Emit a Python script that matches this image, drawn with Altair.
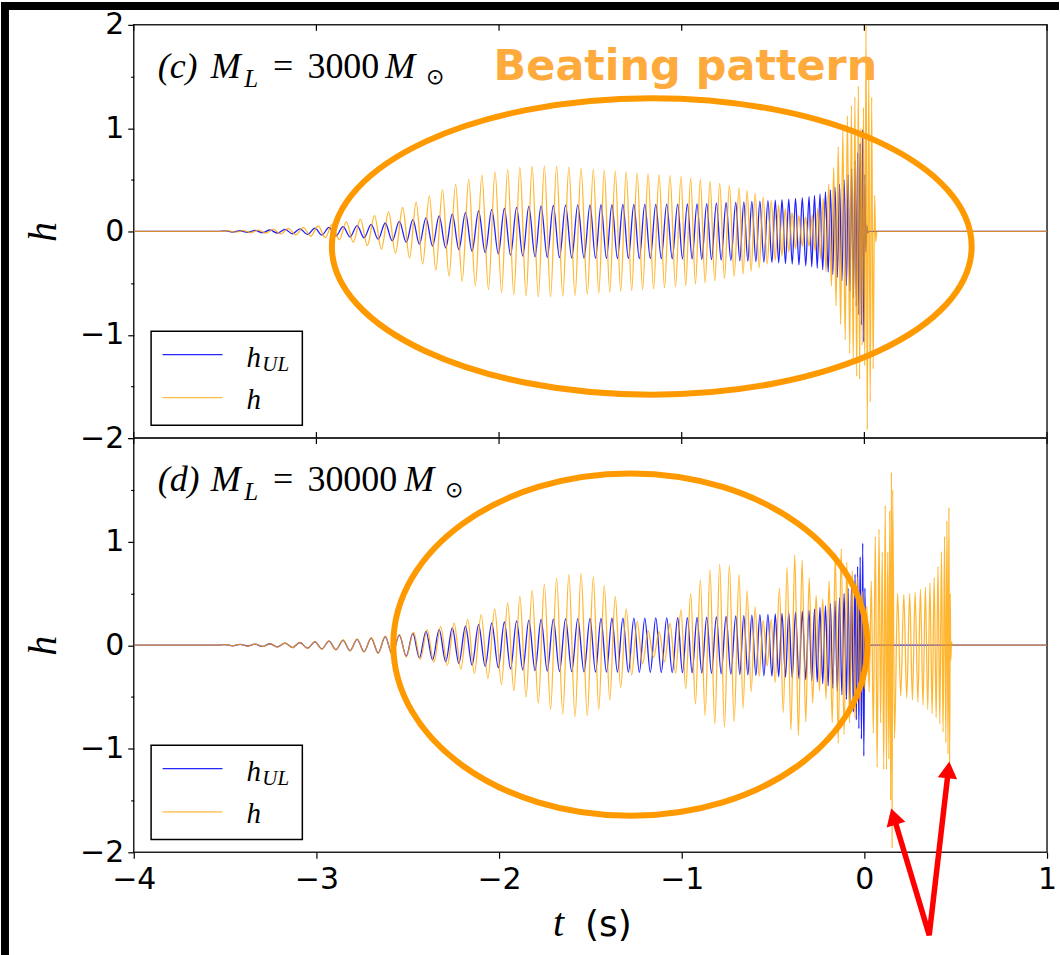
import altair as alt
import pandas as pd

# ---------------- axes ----------------
X_DOMAIN = [-4, 1]
Y_DOMAIN = [-2, 2]
X_TICKS = [-4, -3, -2, -1, 0, 1]
Y_TICKS = [-2, -1.5, -1, -0.5, 0, 0.5, 1, 1.5, 2]

# ---------------- h_UL (unlensed, same in both panels): extrema ----------------
T_UL = [-4.0, -3.54,
        -3.500, -3.459, -3.418, -3.377, -3.336, -3.295, -3.254, -3.213, -3.172, -3.131, -3.090, -3.049, -3.008,
        -2.970, -2.931, -2.893, -2.854, -2.816, -2.777, -2.739, -2.700, -2.662, -2.623, -2.585, -2.546, -2.508,
        -2.472, -2.436, -2.400, -2.364, -2.328, -2.292, -2.256, -2.220, -2.184, -2.148, -2.112, -2.076, -2.040, -2.004,
        -1.971, -1.937, -1.904, -1.870, -1.837, -1.803, -1.770, -1.736, -1.703, -1.669, -1.636, -1.602, -1.569, -1.535, -1.502,
        -1.472, -1.442, -1.412, -1.382, -1.352, -1.322, -1.292, -1.262, -1.232, -1.202, -1.172, -1.142, -1.112, -1.082, -1.052, -1.022,
        -0.996, -0.969, -0.943, -0.916, -0.890, -0.863, -0.837, -0.810, -0.784, -0.757, -0.731, -0.704,
        -0.682, -0.660, -0.638, -0.616, -0.594, -0.572, -0.550, -0.528, -0.506,
        -0.488, -0.469, -0.451, -0.432, -0.414, -0.395, -0.377, -0.358, -0.340, -0.321, -0.303,
        -0.288, -0.273, -0.258, -0.243, -0.228, -0.213, -0.198,
        -0.186, -0.173, -0.161, -0.148, -0.136, -0.123, -0.111, -0.098,
        -0.089, -0.079, -0.070, -0.060, -0.051,
        -0.044, -0.037, -0.030, -0.023, -0.016, -0.009,
        -0.003, 0.003, 0.008, 0.013, 0.018, 0.024, 1.0]
H_UL = [0.0, 0.0,
        0.006, -0.006, 0.007, -0.008, 0.010, -0.012, 0.014, -0.017, 0.020, -0.023, 0.026, -0.029, 0.032,
        -0.035, 0.039, -0.043, 0.047, -0.052, 0.057, -0.062, 0.068, -0.075, 0.082, -0.090, 0.098, -0.106,
        0.114, -0.123, 0.132, -0.141, 0.150, -0.159, 0.167, -0.175, 0.183, -0.191, 0.198, -0.205, 0.212, -0.218,
        0.224, -0.229, 0.234, -0.238, 0.242, -0.245, 0.248, -0.250, 0.252, -0.254, 0.255, -0.256, 0.257, -0.258, 0.258,
        -0.259, 0.259, -0.260, 0.260, -0.260, 0.261, -0.261, 0.261, -0.262, 0.262, -0.262, 0.263, -0.263, 0.264, -0.264, 0.265,
        -0.265, 0.266, -0.267, 0.268, -0.269, 0.270, -0.272, 0.274, -0.276, 0.278, -0.280, 0.282,
        -0.284, 0.286, -0.288, 0.290, -0.292, 0.294, -0.296, 0.298, -0.300,
        0.302, -0.305, 0.307, -0.310, 0.313, -0.316, 0.320, -0.324, 0.328, -0.333, 0.338,
        -0.343, 0.349, -0.356, 0.364, -0.372, 0.382, -0.393,
        0.403, -0.415, 0.428, -0.443, 0.459, -0.478, 0.500, -0.524,
        0.548, -0.577, 0.608, -0.645, 0.685,
        -0.722, 0.762, -0.806, 0.852, -0.905, 0.985,
        -1.07, 0.55, -0.2, 0.06, -0.015, 0.0, 0.0]

# ---------------- h, panel (c): extrema ----------------
T_HC = [-4.0, -3.52,
        -3.482, -3.441, -3.400, -3.359, -3.318, -3.277, -3.236, -3.195, -3.154, -3.113, -3.072, -3.031, -2.990,
        -2.952, -2.913, -2.875, -2.836, -2.798, -2.759, -2.721, -2.682, -2.644, -2.605, -2.567, -2.528, -2.490,
        -2.454, -2.418, -2.382, -2.346, -2.310, -2.274, -2.238, -2.202, -2.166, -2.130, -2.094, -2.058, -2.022, -1.986,
        -1.953, -1.919, -1.886, -1.852, -1.819, -1.785, -1.752, -1.718, -1.685, -1.651, -1.618, -1.584, -1.551, -1.517, -1.484,
        -1.454, -1.424, -1.394, -1.364, -1.334, -1.304, -1.274, -1.244, -1.214, -1.184, -1.154, -1.124, -1.094, -1.064, -1.034, -1.004,
        -0.978, -0.951, -0.925, -0.898, -0.872, -0.845, -0.819, -0.792, -0.766, -0.739, -0.713, -0.686,
        -0.664, -0.642, -0.620, -0.598, -0.576, -0.554, -0.532, -0.510, -0.488,
        -0.470, -0.451, -0.433, -0.414, -0.396, -0.377, -0.359, -0.340, -0.322, -0.303, -0.285,
        -0.270, -0.255, -0.240, -0.225, -0.210, -0.195, -0.180,
        -0.168, -0.155, -0.143, -0.130, -0.118, -0.105, -0.093, -0.080,
        -0.071, -0.061, -0.052, -0.042, -0.033,
        -0.026, -0.019, -0.012, -0.005, 0.002, 0.009,
        0.016, 0.024, 0.032, 0.040, 0.048, 0.056, 0.062, 0.068, 1.0]
H_HC = [0.0, 0.0,
        0.005, -0.006, 0.008, -0.010, 0.013, -0.016, 0.020, -0.024, 0.029, -0.034, 0.040, -0.046, 0.053,
        -0.060, 0.070, -0.080, 0.092, -0.105, 0.120, -0.136, 0.153, -0.171, 0.190, -0.210, 0.232, -0.255,
        0.285, -0.315, 0.345, -0.375, 0.405, -0.432, 0.458, -0.482, 0.505, -0.526, 0.545, -0.562, 0.577, -0.590,
        0.602, -0.612, 0.620, -0.626, 0.630, -0.632, 0.633, -0.632, 0.630, -0.627, 0.623, -0.619, 0.614, -0.609, 0.604,
        -0.599, 0.594, -0.589, 0.584, -0.580, 0.576, -0.572, 0.568, -0.564, 0.560, -0.556, 0.552, -0.547, 0.542, -0.536, 0.530,
        -0.524, 0.517, -0.510, 0.502, -0.494, 0.485, -0.476, 0.466, -0.456, 0.445, -0.434, 0.422,
        -0.410, 0.397, -0.383, 0.368, -0.352, 0.335, -0.317, 0.298, -0.278,
        0.258, -0.238, 0.218, -0.199, 0.181, -0.165, 0.152, -0.143, 0.140, -0.145, 0.160,
        -0.185, 0.220, -0.265, 0.320, -0.390, 0.460, -0.530,
        0.620, -0.720, 0.820, -0.900, 0.980, -1.050, 1.120, -1.180,
        1.220, -1.280, 1.300, -1.400, 1.410,
        -1.430, 1.000, -1.100, 1.200, -1.300, 2.000,
        -1.920, 1.550, -1.650, 1.300, -1.330, 0.350, -0.100, 0.0, 0.0]

# ---------------- h, panel (d): extrema ----------------
T_HD = [-4.0, -3.54,
        -3.500, -3.459, -3.418, -3.377, -3.336, -3.295, -3.254, -3.213, -3.172, -3.131, -3.090, -3.049, -3.008,
        -2.970, -2.931, -2.893, -2.854, -2.816, -2.777, -2.739, -2.700, -2.662, -2.623, -2.585, -2.546, -2.508,
        -2.468, -2.431, -2.394, -2.357, -2.320, -2.283, -2.246, -2.209, -2.172, -2.135, -2.098, -2.061, -2.024, -1.987,
        -1.953, -1.919, -1.886, -1.852, -1.819, -1.785, -1.752, -1.718, -1.685, -1.651, -1.618, -1.584, -1.551, -1.517, -1.484,
        -1.454, -1.424, -1.394, -1.364, -1.334, -1.304, -1.274, -1.244, -1.214, -1.184, -1.154, -1.124, -1.094, -1.064, -1.034, -1.004,
        -0.978, -0.951, -0.925, -0.898, -0.872, -0.845, -0.819, -0.792, -0.766, -0.739, -0.713, -0.686,
        -0.664, -0.642, -0.620, -0.598, -0.576, -0.554, -0.532, -0.510, -0.488,
        -0.465, -0.444, -0.423, -0.402, -0.381, -0.361, -0.341, -0.321, -0.302, -0.283,
        -0.264, -0.246, -0.228, -0.210, -0.193, -0.176, -0.159, -0.143, -0.127, -0.111,
        -0.096, -0.081, -0.066, -0.052, -0.038, -0.024, -0.011, 0.002, 0.014, 0.026,
        0.038, 0.049, 0.060, 0.070, 0.080, 0.089, 0.098, 0.106, 0.114, 0.121,
        0.128, 0.134, 0.139, 0.144, 0.148, 0.152, 0.155,
        0.165, 0.182, 0.199, 0.216, 0.232, 0.248, 0.263, 0.278, 0.293, 0.307,
        0.321, 0.334, 0.347, 0.359, 0.371, 0.382, 0.393, 0.403, 0.413, 0.422,
        0.431, 0.439, 0.446, 0.452, 0.458, 0.463, 0.467, 0.470, 0.473, 0.477,
        0.482, 1.0]
H_HD = [0.0, 0.0,
        0.006, -0.007, 0.008, -0.009, 0.011, -0.013, 0.015, -0.018, 0.021, -0.024, 0.028, -0.031, 0.034,
        -0.037, 0.041, -0.045, 0.050, -0.055, 0.060, -0.066, 0.072, -0.079, 0.087, -0.095, 0.104, -0.114,
        0.125, -0.137, 0.150, -0.164, 0.179, -0.195, 0.212, -0.230, 0.250, -0.272, 0.296, -0.322, 0.350, -0.380,
        0.410, -0.440, 0.470, -0.500, 0.530, -0.560, 0.590, -0.620, 0.645, -0.665, 0.680, -0.690, 0.690, -0.680, 0.660,
        -0.620, 0.580, -0.530, 0.470, -0.410, 0.350, -0.290, 0.230, -0.180, 0.140, -0.120, 0.130, -0.160, 0.210, -0.270, 0.340,
        -0.420, 0.500, -0.570, 0.630, -0.680, 0.730, -0.760, 0.780, -0.790, 0.770, -0.740, 0.680,
        -0.610, 0.530, -0.450, 0.370, -0.300, 0.240, -0.200, 0.250, -0.360,
        0.550, -0.650, 0.750, -0.820, 0.870, -0.870, 0.820, -0.740, 0.650, -0.560,
        0.480, -0.440, 0.450, -0.520, 0.620, -0.750, 0.880, -0.950, 0.930, -0.860,
        0.800, -0.750, 0.720, -0.700, 0.660, -0.600, 0.520, -0.420, 0.380, -0.450,
        0.620, -0.850, 1.050, -1.180, 1.120, -0.750, 0.900, -1.200, 1.350, -1.200,
        0.900, -1.100, 1.300, -1.500, 1.670, -1.960, 1.500,
        -0.900, 0.500, -0.490, 0.490, -0.510, 0.500, -0.530, 0.510, -0.550, 0.540,
        -0.580, 0.560, -0.620, 0.600, -0.660, 0.650, -0.700, 0.760, -0.760, 0.900,
        -0.840, 1.050, -0.940, 1.200, -1.050, 1.330, -1.130, 0.500, -0.150, 0.030,
        0.0, 0.0]

assert len(T_UL) == len(H_UL)
assert len(T_HC) == len(H_HC)
assert len(T_HD) == len(H_HD)

# ---------------- annotations (data coordinates) ----------------
LABEL_H = 1.487
LABEL_SUB_H = 1.40
TAG_C = ["(c)", "M", "M"]
TAG_C_T = [-3.869, -3.579, -2.623]
UP_C = ["=", "3000"]
UP_C_T = [-3.237, -3.049]
SUN_C_T = -2.400
TAG_D = ["(d)", "M", "M"]
TAG_D_T = [-3.869, -3.579, -2.519]
UP_D = ["=", "30000"]
UP_D_T = [-3.237, -3.049]
SUN_D_T = -2.296
SUB_L_T = -3.395

BEAT_TEXT = "Beating pattern"
BEAT_T, BEAT_H = -2.030, 1.467

ELL_C = {"t": -1.164, "h": -0.145, "ratio": 0.4633, "half_w_px": 320.5}
ELL_D = {"t": -1.281, "h": 0.005, "ratio": 0.7221, "half_w_px": 237.5}

LEG_BOX_T = [-3.905, -3.077]
LEG_BOX_H = [-0.966, -1.876]
LEG_LINE_T = [-3.842, -3.514]
LEG_LINE_H = [-1.193, -1.609]
LEG_TXT_T = -3.383
LEG_TXT_H = [-1.312, -1.718]
LEG_SUB_T, LEG_SUB_H = -3.296, -1.350

ARROW_T = [0.160, 0.355, 0.460]
ARROW_H = [-1.655, -2.800, -1.204]
HEAD_T = [0.160, 0.460]
HEAD_H = [-1.655, -1.204]
HEAD_ANGLE = [343.4, 6.5]

XLAB_T = [-1.705, -1.530]
XLAB_H = -2.813

# ---------------- style ----------------
W, HC, HD = 915, 414, 415
BLUE, ORANGE = "#0000ff", "#ffa500"
ELL_COLOR, BEAT_COLOR = "#ff9900", "#ffaa3c"
SERIF, SANS = "Liberation Serif", "DejaVu Sans"

xscale = alt.Scale(domain=X_DOMAIN, nice=False, zero=False)
yscale = alt.Scale(domain=Y_DOMAIN, nice=False, zero=False)

minus_expr = "datum.value < 0 ? '\u2212' + abs(datum.value) : '' + datum.value"


def make_yaxis(hide_top):
    hide = "datum.value % 1 != 0" + (" || datum.value == 2" if hide_top else "")
    return alt.Axis(
        values=Y_TICKS,
        labelExpr="(" + hide + ") ? '' : (" + minus_expr + ")",
        tickSize={"condition": {"test": "datum.value % 1 != 0", "value": 3}, "value": 6},
        tickWidth=1.2, tickColor="black", domain=False, grid=False,
        labelFont=SANS, labelFontSize=30, labelColor="black", labelPadding=4,
        labelFlush=False, labelOverlap=False,
        title="h", titleFont=SERIF, titleFontStyle="italic", titleFontWeight="normal",
        titleFontSize=40, titleColor="black", titlePadding=16,
    )


xaxis_d = alt.Axis(
    values=X_TICKS, labelExpr=minus_expr,
    tickSize=6, tickWidth=1.2, tickColor="black", domain=False, grid=False,
    labelFont=SANS, labelFontSize=30, labelColor="black", labelPadding=6,
    labelFlush=False, labelOverlap=False, title=None,
)

one = alt.Data(values=[{"a": 1}])


def panel(h_t, h_v, height, xaxis, yaxis, tag, tag_t, up, up_t, sun_t, ell, bottom):
    # every layer carries the same axis definition so the layer merge keeps it
    def X():
        if xaxis is None:
            return alt.X("t:Q", scale=xscale, axis=None)
        return alt.X("t:Q", scale=xscale, axis=xaxis)

    def Y():
        return alt.Y("h:Q", scale=yscale, axis=yaxis)

    blue = alt.Chart(pd.DataFrame({"t": T_UL, "h": H_UL})).mark_line(
        color=BLUE, strokeWidth=1.3, opacity=0.88, interpolate="monotone", clip=True
    ).encode(x=X(), y=Y())
    orange = alt.Chart(pd.DataFrame({"t": h_t, "h": h_v})).mark_line(
        color=ORANGE, strokeWidth=1.3, opacity=0.8, interpolate="monotone", clip=True
    ).encode(x=X(), y=Y())

    path = "M -1 0 A 1 {r} 0 1 1 1 0 A 1 {r} 0 1 1 -1 0 Z".format(r=ell["ratio"])
    ellipse = alt.Chart(pd.DataFrame({"t": [ell["t"]], "h": [ell["h"]]})).mark_point(
        shape=path, size=(2 * ell["half_w_px"]) ** 2, filled=False,
        stroke=ELL_COLOR, strokeWidth=6, opacity=1
    ).encode(x=X(), y=Y())

    tag_df = pd.DataFrame({"t": tag_t, "h": [LABEL_H] * len(tag), "s": tag})
    tag_m = alt.Chart(tag_df).mark_text(
        align="left", baseline="alphabetic", font=SERIF, fontSize=36,
        fontStyle="italic", color="black"
    ).encode(x=X(), y=Y(), text="s:N")
    up_df = pd.DataFrame({"t": up_t, "h": [LABEL_H] * len(up), "s": up})
    up_m = alt.Chart(up_df).mark_text(
        align="left", baseline="alphabetic", font=SERIF, fontSize=36, color="black"
    ).encode(x=X(), y=Y(), text="s:N")
    subl = alt.Chart(pd.DataFrame({"t": [SUB_L_T], "h": [LABEL_SUB_H], "s": ["L"]})).mark_text(
        align="left", baseline="alphabetic", font=SERIF, fontSize=25,
        fontStyle="italic", color="black"
    ).encode(x=X(), y=Y(), text="s:N")
    sun = alt.Chart(pd.DataFrame({"t": [sun_t], "h": [LABEL_SUB_H + 0.03], "s": ["\u2299"]})).mark_text(
        align="left", baseline="alphabetic", font="DejaVu Sans", fontSize=22, color="black"
    ).encode(x=X(), y=Y(), text="s:N")

    # legend
    box = alt.Chart(pd.DataFrame({"t": [LEG_BOX_T[0]], "t2": [LEG_BOX_T[1]],
                                  "h": [LEG_BOX_H[0]], "h2": [LEG_BOX_H[1]]})).mark_rect(
        fill="white", stroke="black", strokeWidth=1.5
    ).encode(x=X(), x2="t2:Q", y=Y(), y2="h2:Q")
    leg_lines = alt.Chart(pd.DataFrame({
        "t": [LEG_LINE_T[0]] * 2, "t2": [LEG_LINE_T[1]] * 2,
        "h": LEG_LINE_H, "k": ["h_UL", "h"]})).mark_rule(strokeWidth=1.3).encode(
        x=X(), x2="t2:Q", y=Y(),
        color=alt.Color("k:N", scale=alt.Scale(domain=["h_UL", "h"], range=[BLUE, ORANGE]), legend=None),
        opacity=alt.Opacity("k:N", scale=alt.Scale(domain=["h_UL", "h"], range=[0.85, 0.75]), legend=None),
    )
    leg_h = alt.Chart(pd.DataFrame({"t": [LEG_TXT_T] * 2, "h": LEG_TXT_H, "s": ["h", "h"]})).mark_text(
        align="left", baseline="alphabetic", font=SERIF, fontSize=29,
        fontStyle="italic", color="black"
    ).encode(x=X(), y=Y(), text="s:N")
    leg_sub = alt.Chart(pd.DataFrame({"t": [LEG_SUB_T], "h": [LEG_SUB_H], "s": ["UL"]})).mark_text(
        align="left", baseline="alphabetic", font=SERIF, fontSize=21,
        fontStyle="italic", color="black"
    ).encode(x=X(), y=Y(), text="s:N")

    # inward x ticks at the top (and at the bottom of the upper panel)
    tick_df = pd.DataFrame({"t": X_TICKS})
    top_ticks = alt.Chart(tick_df).mark_rule(color="black", strokeWidth=1.2).encode(
        x=X(), y=alt.value(0), y2=alt.value(6))
    layers = [blue, orange, ellipse, tag_m, up_m, subl, sun, box, leg_lines, leg_h, leg_sub, top_ticks]
    if not bottom:
        layers.append(alt.Chart(tick_df).mark_rule(color="black", strokeWidth=1.2).encode(
            x=X(), y=alt.value(height - 6), y2=alt.value(height)))
    return layers, X, Y


# ---------- panel (c) ----------
layers_c, Xc, Yc = panel(T_HC, H_HC, HC, None, make_yaxis(False),
                         TAG_C, TAG_C_T, UP_C, UP_C_T, SUN_C_T, ELL_C, False)
beat = alt.Chart(pd.DataFrame({"t": [BEAT_T], "h": [BEAT_H], "s": [BEAT_TEXT]})).mark_text(
    align="left", baseline="alphabetic", font=SANS, fontSize=43, fontWeight="bold", color=BEAT_COLOR
).encode(x=Xc(), y=Yc(), text="s:N")
top_bar = alt.Chart(one).mark_rect(color="black").encode(
    x=alt.value(-133), x2=alt.value(1060 - 133), y=alt.value(-23), y2=alt.value(-15))
left_bar_c = alt.Chart(one).mark_rect(color="black").encode(
    x=alt.value(-133), x2=alt.value(-125), y=alt.value(-23), y2=alt.value(HC))
chart_c = alt.layer(*layers_c, beat, top_bar, left_bar_c).properties(width=W, height=HC)

# ---------- panel (d) ----------
layers_d, Xd, Yd = panel(T_HD, H_HD, HD, xaxis_d, make_yaxis(True),
                         TAG_D, TAG_D_T, UP_D, UP_D_T, SUN_D_T, ELL_D, True)
arrow = alt.Chart(pd.DataFrame({"t": ARROW_T, "h": ARROW_H, "o": [0, 1, 2]})).mark_line(
    color="#ff0000", strokeWidth=5.5, strokeJoin="miter", clip=False
).encode(x=Xd(), y=Yd(), order="o:Q")
heads = alt.Chart(pd.DataFrame({"t": HEAD_T, "h": HEAD_H, "a": HEAD_ANGLE})).mark_point(
    shape="triangle-up", size=380, filled=True, color="#ff0000", opacity=1
).encode(x=Xd(), y=Yd(), angle=alt.Angle("a:Q", scale=None))
xlab_t = alt.Chart(pd.DataFrame({"t": [XLAB_T[0]], "h": [XLAB_H], "s": ["t"]})).mark_text(
    align="left", baseline="alphabetic", font=SERIF, fontSize=40, fontStyle="italic", color="black"
).encode(x=Xd(), y=Yd(), text="s:N")
xlab_s = alt.Chart(pd.DataFrame({"t": [XLAB_T[1]], "h": [XLAB_H], "s": ["(s)"]})).mark_text(
    align="left", baseline="alphabetic", font=SANS, fontSize=36, color="black"
).encode(x=Xd(), y=Yd(), text="s:N")
left_bar_d = alt.Chart(one).mark_rect(color="black").encode(
    x=alt.value(-133), x2=alt.value(-125), y=alt.value(0), y2=alt.value(955 - 437))
chart_d = alt.layer(*layers_d, arrow, heads, xlab_t, xlab_s, left_bar_d).properties(width=W, height=HD)

chart = alt.vconcat(chart_c, chart_d, spacing=0, bounds="flush").properties(
    padding=0, background="white"
).configure_view(stroke="#222222", strokeWidth=1.5).configure_concat(spacing=0)

chart.save("out.html", embed_options={"renderer": "svg", "actions": False})
